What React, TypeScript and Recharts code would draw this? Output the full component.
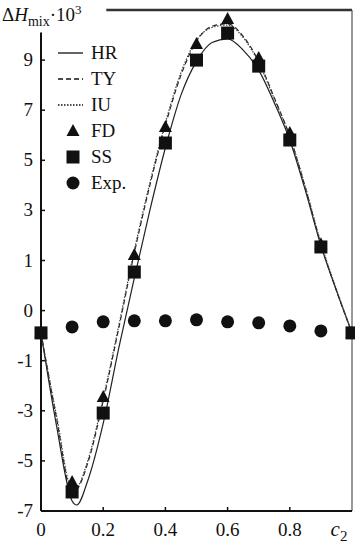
import { ComposedChart, Line, Scatter, XAxis, YAxis, ReferenceLine } from 'recharts';

// composition grid for the model curves
const CURVE_C = [0, 0.05, 0.1, 0.115, 0.15, 0.2, 0.25, 0.3, 0.35, 0.4, 0.45, 0.5, 0.55, 0.6, 0.65, 0.7, 0.75, 0.8, 0.85, 0.9, 0.95, 1.0];
const HR = [-1.89, -5.6, -8.6, -8.76, -7.8, -5.5, -2.5, 0.3, 3.0, 5.5, 7.6, 8.95, 9.7, 9.85, 9.4, 8.6, 7.3, 5.8, 3.8, 1.6, -0.2, -1.89];
const TY = [-1.89, -5.3, -8.25, -8.15, -7.1, -4.6, -1.7, 1.3, 4.0, 6.4, 8.4, 9.75, 10.35, 10.45, 9.95, 8.95, 7.5, 5.95, 3.9, 1.65, -0.2, -1.89];
const IU = [-1.89, -5.2, -8.1, -8.05, -7.0, -4.5, -1.6, 1.4, 4.1, 6.5, 8.5, 9.8, 10.3, 10.4, 9.9, 8.9, 7.45, 5.95, 3.95, 1.7, -0.15, -1.89];

// simulation points
const SIM_C = [0, 0.1, 0.2, 0.3, 0.4, 0.5, 0.6, 0.7, 0.8, 0.9, 1.0];
const FD = [-1.89, -7.84, -4.45, 1.22, 6.33, 9.64, 10.64, 9.08, 6.09, 1.65, -1.89];
const SS = [-1.89, -8.24, -5.09, 0.54, 5.69, 9.0, 10.08, 8.76, 5.81, 1.54, -1.89];

// experiment
const EXP_C = [0.1, 0.2, 0.3, 0.4, 0.5, 0.6, 0.7, 0.8, 0.9];
const EXP = [-1.65, -1.45, -1.41, -1.41, -1.37, -1.45, -1.49, -1.61, -1.81];

const Y_TICKS = [9, 7, 5, 3, 1, -1, -3, -5, -7, -9];
const Y_LABELS = ['9', '7', '5', '3', '1', '0', '-1', '-3', '-5', '-7'];
const X_TICKS = [0, 0.2, 0.4, 0.6, 0.8, 1.0];
const X_LABELS = ['0', '0.2', '0.4', '0.6', '0.8', ''];

const FONT = '"Liberation Serif", "DejaVu Serif", serif';
const INK = '#111';

const zip = (xs: number[], ys: number[]) => xs.map((c, i) => ({ c, v: ys[i] }));

const hrData = zip(CURVE_C, HR);
const tyData = zip(CURVE_C, TY);
const iuData = zip(CURVE_C, IU);
const fdData = zip(SIM_C, FD);
const ssData = zip(SIM_C, SS);
const expData = zip(EXP_C, EXP);

const Triangle = (props: any) => {
  const { cx, cy } = props;
  return <path d={`M${cx},${cy - 7} L${cx + 6.5},${cy + 5} L${cx - 6.5},${cy + 5} Z`} fill={INK} />;
};

const Square = (props: any) => {
  const { cx, cy } = props;
  return <rect x={cx - 6.5} y={cy - 6.5} width={13} height={13} fill={INK} />;
};

const Dot = (props: any) => {
  const { cx, cy } = props;
  return <circle cx={cx} cy={cy} r={6.5} fill={INK} />;
};

const YTick = (props: any) => {
  const { x, y, payload } = props;
  const idx = Y_TICKS.indexOf(payload.value);
  return (
    <g>
      <line x1={x} x2={x + 4} y1={y} y2={y} stroke={INK} strokeWidth={1.5} />
      <text x={x - 8} y={y} dy={6} textAnchor="end" fontFamily={FONT} fontSize={19} fill={INK}>
        {Y_LABELS[idx]}
      </text>
    </g>
  );
};

const XTick = (props: any) => {
  const { x, y, payload } = props;
  const idx = X_TICKS.indexOf(payload.value);
  if (idx === X_TICKS.length - 1) {
    return (
      <text x={x - 12} y={y + 25} textAnchor="middle" fontFamily={FONT} fontSize={21} fill={INK}>
        <tspan fontStyle="italic">c</tspan>
        <tspan fontSize={15} dy={5}>2</tspan>
      </text>
    );
  }
  return (
    <g>
      <line x1={x} x2={x} y1={y} y2={y - 4} stroke={INK} strokeWidth={1.5} />
      <text x={x} y={y + 25} textAnchor="middle" fontFamily={FONT} fontSize={19} fill={INK}>
        {X_LABELS[idx]}
      </text>
    </g>
  );
};

const legendRows = [
  { name: 'HR', kind: 'solid' },
  { name: 'TY', kind: 'dash' },
  { name: 'IU', kind: 'dot' },
  { name: 'FD', kind: 'tri' },
  { name: 'SS', kind: 'sq' },
  { name: 'Exp.', kind: 'circle' },
];

const LegendIcon = ({ kind }: { kind: string }) => (
  <svg width={30} height={20}>
    {kind === 'solid' && <line x1={2} x2={27} y1={10} y2={10} stroke={INK} strokeWidth={1.3} />}
    {kind === 'dash' && <line x1={2} x2={27} y1={10} y2={10} stroke={INK} strokeWidth={1.3} strokeDasharray="5 3" />}
    {kind === 'dot' && <line x1={2} x2={27} y1={10} y2={10} stroke={INK} strokeWidth={1.3} strokeDasharray="1.5 1.5" />}
    {kind === 'tri' && <Triangle cx={17} cy={10} />}
    {kind === 'sq' && <Square cx={17} cy={10} />}
    {kind === 'circle' && <Dot cx={17} cy={10} />}
  </svg>
);

export default function App() {
  return (
    <div style={{ position: 'absolute', left: 0, top: 0, width: 355, height: 543, background: '#fff' }}>
      <ComposedChart width={355} height={543} margin={{ top: 10, right: 3, bottom: 2, left: 0 }}>
        <XAxis
          type="number"
          dataKey="c"
          domain={[0, 1]}
          ticks={X_TICKS}
          tick={XTick}
          tickSize={0}
          tickMargin={0}
          height={30}
          axisLine={{ stroke: INK, strokeWidth: 2 }}
          allowDuplicatedCategory={false}
        />
        <YAxis
          type="number"
          dataKey="v"
          domain={[-9, 11]}
          ticks={Y_TICKS}
          tick={YTick}
          tickSize={0}
          tickMargin={0}
          width={41}
          axisLine={false}
          interval={0}
        />
        <ReferenceLine segment={[{ x: 0, y: -9 }, { x: 0, y: 10.1 }]} stroke={INK} strokeWidth={2} />
        <ReferenceLine segment={[{ x: 0.21, y: 11 }, { x: 1, y: 11 }]} stroke="#333" strokeWidth={2.5} />
        <ReferenceLine x={1} stroke="#555" strokeWidth={1.2} />
        <Line data={hrData} dataKey="v" type="monotone" stroke="#222" strokeWidth={1.2} dot={false} isAnimationActive={false} />
        <Line data={tyData} dataKey="v" type="monotone" stroke="#222" strokeWidth={1.2} strokeDasharray="5 3" dot={false} isAnimationActive={false} />
        <Line data={iuData} dataKey="v" type="monotone" stroke="#444" strokeWidth={1.2} strokeDasharray="1.5 1.5" dot={false} isAnimationActive={false} />
        <Scatter data={expData} dataKey="v" shape={Dot} isAnimationActive={false} />
        <Scatter data={fdData} dataKey="v" shape={Triangle} isAnimationActive={false} />
        <Scatter data={ssData} dataKey="v" shape={Square} isAnimationActive={false} />
      </ComposedChart>
      <div style={{ position: 'absolute', left: 2, top: 2, fontFamily: FONT, fontSize: 19, color: INK, whiteSpace: 'nowrap' }}>
        Δ<i>H</i>
        <sub style={{ fontSize: 14 }}>mix</sub>·10<sup style={{ fontSize: 13 }}>3</sup>
      </div>
      <div style={{ position: 'absolute', left: 56, top: 40, fontFamily: FONT, fontSize: 19, color: INK }}>
        {legendRows.map((r) => (
          <div key={r.name} style={{ display: 'flex', alignItems: 'center', height: 26 }}>
            <LegendIcon kind={r.kind} />
            <span style={{ marginLeft: 5 }}>{r.name}</span>
          </div>
        ))}
      </div>
    </div>
  );
}
